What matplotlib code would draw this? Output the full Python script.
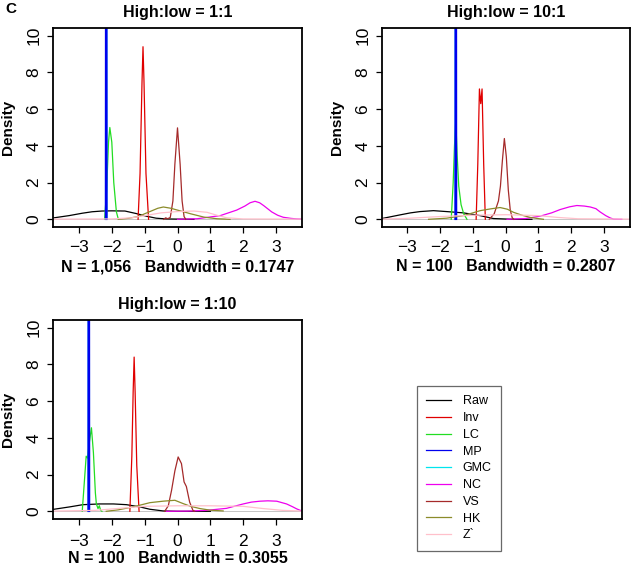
import matplotlib
matplotlib.use("Agg")
import matplotlib.pyplot as plt
from matplotlib.lines import Line2D

plt.rcParams['font.family'] = ['Liberation Sans', 'DejaVu Sans']

# methods and colours
methods = ['Raw', 'Inv', 'LC', 'MP', 'GMC', 'NC', 'VS', 'HK', 'Z`']
colors = ['#000000', '#e00000', '#22dd22', '#0000ee', '#00e5ee',
          '#ee00ee', '#a52a2a', '#8b8b2a', '#ffc0cb']

titles = ['High:low = 1:1', 'High:low = 10:1', 'High:low = 1:10']
xlabels = ['N = 1,056   Bandwidth = 0.1747',
           'N = 100   Bandwidth = 0.2807',
           'N = 100   Bandwidth = 0.3055']

# ---- panel 1 (1:1) density curves
p1_raw_x = [-3.8, -3.3, -2.9, -2.6, -2.3, -2.0, -1.6, -1.25, -0.95, -0.65, -0.35, 0.0, 0.5]
p1_raw_y = [0.07, 0.2, 0.33, 0.41, 0.45, 0.46, 0.45, 0.31, 0.17, 0.06, 0.02, 0.01, 0.0]
p1_inv_x = [-1.2, -1.14, -1.08, -1.05, -1.02, -0.96, -0.88]
p1_inv_y = [0.0, 2.5, 7.5, 9.4, 7.5, 2.5, 0.0]
p1_lc_x = [-2.22, -2.16, -2.1, -2.06, -2.0, -1.94, -1.86, -1.8]
p1_lc_y = [0.0, 1.5, 4.2, 5.0, 4.2, 2.0, 0.4, 0.0]
p1_mp_x = [-2.19, -2.17, -2.15]
p1_mp_y = [0.0, 80.0, 0.0]
p1_gmc_x = [-2.19, -2.17, -2.15]
p1_gmc_y = [0.0, 80.0, 0.0]
p1_nc_x = [0.0, 0.6, 1.3, 1.8, 2.05, 2.21, 2.36, 2.5, 2.62, 2.87, 3.05, 3.22, 3.45, 3.63, 3.8]
p1_nc_y = [0.0, 0.03, 0.2, 0.5, 0.72, 0.9, 0.98, 0.9, 0.75, 0.4, 0.22, 0.11, 0.05, 0.02, 0.01]
p1_vs_x = [-0.42, -0.36, -0.3, -0.22, -0.14, -0.08, 0.0, 0.08, 0.14, 0.2, 0.25]
p1_vs_y = [0.0, 0.08, 0.03, 0.1, 1.0, 3.0, 4.98, 3.0, 1.0, 0.15, 0.0]
p1_hk_x = [-1.8, -1.5, -1.2, -0.8, -0.6, -0.43, -0.2, 0.0, 0.4, 0.8, 1.2, 1.6]
p1_hk_y = [0.0, 0.05, 0.15, 0.45, 0.6, 0.67, 0.6, 0.5, 0.3, 0.12, 0.03, 0.0]
p1_z_x = [-3.8, -2.0, -1.4, -1.0, -0.5, 0.0, 0.5, 0.9, 1.2, 1.5, 2.0, 3.8]
p1_z_y = [0.01, 0.02, 0.08, 0.2, 0.35, 0.42, 0.45, 0.38, 0.22, 0.08, 0.02, 0.01]

# ---- panel 2 (10:1)
p2_raw_x = [-3.75, -3.22, -2.9, -2.61, -2.2, -1.8, -1.29, -0.78, -0.37, 0.23, 0.8]
p2_raw_y = [0.05, 0.24, 0.35, 0.42, 0.47, 0.42, 0.35, 0.2, 0.04, 0.0, 0.0]
p2_inv_x = [-0.9, -0.85, -0.8, -0.76, -0.72, -0.67, -0.62]
p2_inv_y = [0.0, 3.0, 7.1, 6.3, 7.1, 3.0, 0.0]
p2_lc_x = [-1.66, -1.6, -1.56, -1.52, -1.48, -1.43, -1.36, -1.28, -1.18]
p2_lc_y = [0.0, 2.0, 4.0, 5.4, 3.5, 1.8, 0.8, 0.3, 0.0]
p2_mp_x = [-1.54, -1.52, -1.5]
p2_mp_y = [0.0, 80.0, 0.0]
p2_gmc_x = [-1.54, -1.52, -1.5]
p2_gmc_y = [0.0, 80.0, 0.0]
p2_nc_x = [0.04, 0.6, 1.05, 1.4, 1.66, 1.95, 2.17, 2.4, 2.58, 2.75, 2.88, 3.05, 3.19, 3.29, 3.54]
p2_nc_y = [0.0, 0.04, 0.17, 0.35, 0.53, 0.68, 0.75, 0.72, 0.67, 0.58, 0.4, 0.2, 0.07, 0.01, 0.0]
p2_vs_x = [-0.5, -0.35, -0.22, -0.16, -0.1, -0.04, 0.02, 0.08, 0.14, 0.2, 0.25]
p2_vs_y = [0.0, 0.3, 1.0, 1.8, 3.2, 4.4, 3.4, 1.6, 0.5, 0.08, 0.0]
p2_hk_x = [-2.35, -1.8, -1.29, -1.0, -0.78, -0.45, -0.17, 0.05, 0.24, 0.5, 0.75, 1.15]
p2_hk_y = [0.0, 0.06, 0.2, 0.35, 0.47, 0.57, 0.64, 0.55, 0.38, 0.22, 0.1, 0.0]
p2_z_x = [-3.8, -3.0, -2.0, -1.0, 0.0, 1.0, 1.6, 2.2, 3.8]
p2_z_y = [0.01, 0.05, 0.15, 0.22, 0.25, 0.2, 0.1, 0.03, 0.01]

# ---- panel 3 (1:10)
p3_raw_x = [-3.8, -3.28, -2.88, -2.37, -1.95, -1.55, -1.15, -0.84, -0.44, 0.0, 1.0]
p3_raw_y = [0.1, 0.24, 0.36, 0.4, 0.4, 0.36, 0.24, 0.11, 0.02, 0.0, 0.0]
p3_inv_x = [-1.45, -1.39, -1.35, -1.32, -1.29, -1.24, -1.17]
p3_inv_y = [0.0, 3.0, 6.5, 8.4, 6.5, 2.5, 0.0]
p3_lc_x = [-2.9, -2.84, -2.78, -2.74, -2.68, -2.62, -2.56, -2.5, -2.47, -2.42, -2.38, -2.34, -2.3]
p3_lc_y = [0.0, 1.5, 3.0, 2.9, 3.8, 4.55, 3.2, 1.0, 0.4, 0.15, 0.3, 0.05, 0.0]
p3_mp_x = [-2.72, -2.7, -2.68]
p3_mp_y = [0.0, 80.0, 0.0]
p3_gmc_x = [-2.72, -2.7, -2.68]
p3_gmc_y = [0.0, 80.0, 0.0]
p3_nc_x = [-0.34, 0.3, 0.88, 1.49, 2.0, 2.25, 2.51, 2.75, 3.02, 3.32, 3.5, 3.63, 3.78]
p3_nc_y = [0.0, 0.01, 0.05, 0.16, 0.4, 0.5, 0.55, 0.57, 0.55, 0.4, 0.25, 0.13, 0.02]
p3_vs_x = [-0.39, -0.28, -0.18, -0.08, 0.02, 0.12, 0.2, 0.27, 0.37, 0.47, 0.52]
p3_vs_y = [0.0, 0.3, 1.15, 2.2, 2.96, 2.6, 1.6, 1.35, 0.5, 0.05, 0.0]
p3_hk_x = [-2.17, -1.8, -1.35, -0.84, -0.44, -0.08, 0.17, 0.4, 0.68, 1.0, 1.39]
p3_hk_y = [0.0, 0.08, 0.24, 0.47, 0.55, 0.6, 0.42, 0.27, 0.15, 0.06, 0.02]
p3_z_x = [-3.8, -2.5, -1.5, -1.0, 0.0, 1.0, 2.0, 2.6, 3.2, 3.8]
p3_z_y = [0.01, 0.05, 0.2, 0.27, 0.3, 0.3, 0.27, 0.15, 0.05, 0.01]

panels = [
    [(p1_raw_x, p1_raw_y), (p1_inv_x, p1_inv_y), (p1_lc_x, p1_lc_y), (p1_gmc_x, p1_gmc_y),
     (p1_mp_x, p1_mp_y), (p1_nc_x, p1_nc_y), (p1_vs_x, p1_vs_y), (p1_hk_x, p1_hk_y), (p1_z_x, p1_z_y)],
    [(p2_raw_x, p2_raw_y), (p2_inv_x, p2_inv_y), (p2_lc_x, p2_lc_y), (p2_gmc_x, p2_gmc_y),
     (p2_mp_x, p2_mp_y), (p2_nc_x, p2_nc_y), (p2_vs_x, p2_vs_y), (p2_hk_x, p2_hk_y), (p2_z_x, p2_z_y)],
    [(p3_raw_x, p3_raw_y), (p3_inv_x, p3_inv_y), (p3_lc_x, p3_lc_y), (p3_gmc_x, p3_gmc_y),
     (p3_mp_x, p3_mp_y), (p3_nc_x, p3_nc_y), (p3_vs_x, p3_vs_y), (p3_hk_x, p3_hk_y), (p3_z_x, p3_z_y)],
]
# drawing order matches the tuples above: GMC under MP
order_colors = [colors[0], colors[1], colors[2], colors[4], colors[3],
                colors[5], colors[6], colors[7], colors[8]]

W, H = 640, 566
fig = plt.figure(figsize=(W / 100, H / 100), dpi=100)

# axes boxes in pixels: left, top, right, bottom
boxes = [(53, 28, 302, 227), (382, 28, 630, 227), (53, 320, 302, 519)]
xlims = [(-3.79, 3.79), (-3.77, 3.79), (-3.79, 3.79)]
xtick_pads = [5, 5, 6]
xlabel_pads = [3, 3, 1.5]

for i, (l, t, r, b) in enumerate(boxes):
    ax = fig.add_axes([l / W, 1 - b / H, (r - l) / W, (b - t) / H])
    ax.axhline(0, color='#bbbbbb', lw=0.6, zorder=1)
    for (xs, ys), c in zip(panels[i], order_colors):
        lw = 1.1 if c == colors[3] else 0.9
        ax.plot(xs, ys, color=c, lw=lw, zorder=2)
    ax.set_xlim(*xlims[i])
    ax.set_ylim(-0.42, 10.42)
    ax.set_xticks(range(-3, 4))
    ax.set_xticklabels(['\u22123', '\u22122', '\u22121', '0', '1', '2', '3'])
    ax.set_yticks(range(0, 11, 2))
    ax.set_yticklabels([str(v) for v in range(0, 11, 2)], rotation=90, va='center')
    ax.tick_params(direction='out', length=4.5, width=0.9, labelsize=12.5)
    ax.tick_params(axis='x', pad=xtick_pads[i])
    ax.tick_params(axis='y', pad=4)
    for s in ax.spines.values():
        s.set_linewidth(1.3)
    ax.set_title(titles[i], fontsize=11.5, fontweight='bold', pad=8)
    ax.set_xlabel(xlabels[i], fontsize=11.5, fontweight='bold', labelpad=xlabel_pads[i])
    ax.set_ylabel('Density', fontsize=11, fontweight='bold', labelpad=8)

fig.text(5 / W, 1 - 9 / H, 'C', fontsize=11, fontweight='bold', va='center', ha='left')

# legend
handles = [Line2D([0], [0], color=c, lw=0.9) for c in colors]
leg = fig.legend(handles, methods, loc='upper left', bbox_to_anchor=(417 / W, 1 - 386 / H),
                 frameon=True, fancybox=False, fontsize=9, handlelength=2.0,
                 labelspacing=0.38, borderpad=0.75, handletextpad=0.9, borderaxespad=0)
leg.get_frame().set_edgecolor('#444444')
leg.get_frame().set_linewidth(0.9)

fig.savefig('out.png', dpi=100)
